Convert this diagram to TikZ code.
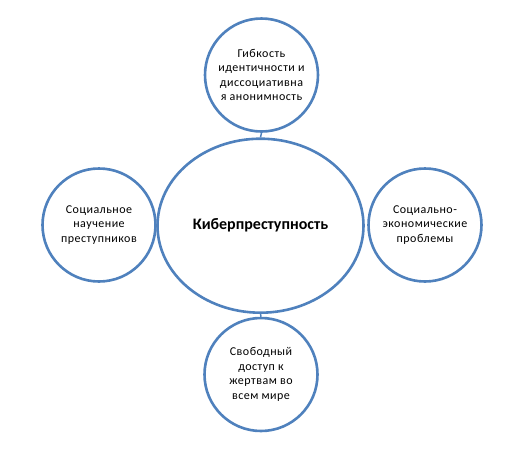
\documentclass[tikz,border=0pt]{standalone}
\usepackage{fontspec}
\setmainfont{Carlito}
\usetikzlibrary{shapes.geometric}
\definecolor{accentblue}{RGB}{79,129,189}
\begin{document}
\begin{tikzpicture}[x=1pt,y=-1pt,
  satellite/.style={circle,draw=accentblue,line width=2.6pt,fill=white,minimum size=113pt,inner sep=0pt,align=center,font=\fontsize{12}{14.5}\selectfont\addfontfeature{LetterSpace=4}},
  hub/.style={ellipse,draw=accentblue,line width=2.6pt,fill=white,minimum width=206pt,minimum height=174pt,inner sep=0pt,align=center,font=\fontsize{16}{18}\selectfont\bfseries},
  link/.style={draw=accentblue,line width=1.5pt}]
\useasboundingbox (0,0) rectangle (528,459);
\node[hub] (hub) at (260.5,225.7) {Киберпреступность};
\node[satellite] (top) at (261.5,75) {Гибкость\\идентичности и\\диссоциативна\\я анонимность};
\node[satellite] (left) at (99,225) {Социальное\\научение\\преступников};
\node[satellite] (right) at (425,225) {Социально-\\экономические\\проблемы};
\node[satellite] (bottom) at (261,374.5) {Свободный\\доступ к\\жертвам во\\всем мире};
\draw[link] (top.south) -- (hub.north);
\draw[link] (hub.south) -- (bottom.north);
\end{tikzpicture}
\end{document}
